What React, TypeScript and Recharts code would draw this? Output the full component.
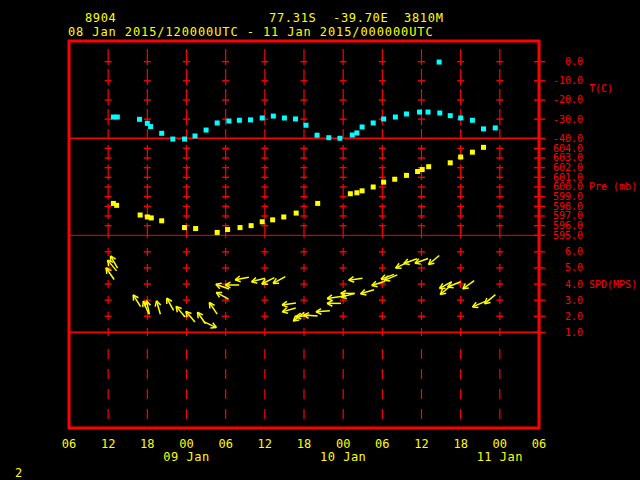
import { ComposedChart, XAxis, YAxis, Scatter, ReferenceLine, ReferenceArea } from "recharts";

// hours after 08 Jan 2015 06 UTC
const tempHours = [6.8, 7.4, 10.8, 12.0, 12.5, 14.2, 15.9, 17.7, 19.3, 21.0, 22.7, 24.5, 26.1, 27.8, 29.6, 31.3, 33.0, 34.7, 36.3, 38.0, 39.8, 41.5, 43.4, 44.1, 44.9, 46.6, 48.2, 50.0, 51.7, 53.7, 55.0, 56.7, 56.8, 58.4, 60.0, 61.8, 63.5, 65.3];
const tempValues = [-28.9, -28.9, -30.1, -32.2, -33.9, -37.4, -40.4, -40.4, -38.8, -35.7, -32.0, -31.0, -30.6, -30.4, -29.4, -28.4, -29.4, -29.9, -33.2, -38.4, -39.7, -40.0, -38.3, -37.2, -34.1, -32.0, -29.9, -28.9, -27.3, -26.3, -26.3, -0.2, -26.8, -28.2, -29.4, -30.6, -35.1, -34.6];

const presHours = [6.8, 7.3, 10.9, 12.0, 12.6, 14.2, 17.7, 19.4, 22.7, 24.3, 26.2, 27.9, 29.6, 31.2, 32.9, 34.8, 38.1, 43.1, 44.1, 44.9, 46.6, 48.2, 49.9, 51.7, 53.4, 54.1, 55.1, 58.4, 60.0, 61.8, 63.5];
const presValues = [598.3, 598.1, 597.1, 596.9, 596.8, 596.5, 595.8, 595.7, 595.3, 595.6, 595.8, 596.0, 596.4, 596.6, 596.9, 597.3, 598.3, 599.3, 599.4, 599.6, 600.0, 600.5, 600.8, 601.2, 601.6, 601.8, 602.1, 602.5, 603.1, 603.6, 604.1];

const windHours = [6.3, 6.6, 6.9, 10.4, 11.8, 12.1, 13.7, 15.5, 17.1, 18.6, 20.3, 21.6, 22.1, 23.5, 23.5, 25.0, 26.5, 29.0, 30.5, 32.2, 33.7, 33.7, 35.2, 35.8, 37.0, 38.9, 40.6, 40.6, 42.7, 42.7, 43.9, 45.7, 47.4, 48.8, 49.3, 51.0, 52.3, 54.0, 55.9, 57.7, 57.7, 59.0, 61.2, 62.8, 64.5];
const windSpeeds = [4.64, 5.15, 5.37, 2.96, 2.54, 2.54, 2.54, 2.75, 2.28, 1.97, 1.89, 1.48, 2.49, 3.27, 3.84, 3.94, 4.34, 4.25, 4.2, 4.25, 2.76, 2.39, 1.97, 2.02, 2.04, 2.31, 3.16, 2.8, 3.42, 3.3, 4.3, 3.52, 4.04, 4.45, 4.4, 5.18, 5.42, 5.44, 5.49, 3.94, 3.63, 3.98, 3.96, 2.75, 3.06];
// direction the wind blows from, degrees
const windDirs = [145, 140, 150, 148, 157, 168, 164, 151, 140, 140, 145, 295, 146, 119, 110, 90, 80, 76, 63, 61, 82, 74, 51, 84, 94, 85, 82, 90, 90, 75, 82, 74, 72, 70, 67, 64, 70, 70, 50, 61, 50, 68, 54, 67, 50];

const timeTicks = [0, 6, 12, 18, 24, 30, 36, 42, 48, 54, 60, 66, 72];
const gridHours = [6, 12, 18, 24, 30, 36, 42, 48, 54, 60, 66];
const dayHours = [18, 42, 66];
const dayNames = ["09 Jan", "10 Jan", "11 Jan"];

const tempTicks = [0, -10, -20, -30, -40];
const presTicks = [595, 596, 597, 598, 599, 600, 601, 602, 603, 604];
const windTicks = [1, 2, 3, 4, 5, 6];

const T_DOMAIN: [number, number] = [-191.3, 10.8];
const P_DOMAIN: [number, number] = [575.07, 615.1];
const W_DOMAIN: [number, number] = [-4.94, 19.09];

const RED = "#ff0000";
const YELLOW = "#ffff00";
const CYAN = "#00ffff";
const FONT = "'DejaVu Sans Mono', monospace";
const FRAME_RIGHT = 539;

const tempData = tempHours.map((x, i) => ({ x, y: tempValues[i] }));
const presData = presHours.map((x, i) => ({ x, y: presValues[i] }));
const windData = windHours.map((x, i) => ({ x, y: windSpeeds[i], dir: windDirs[i] }));

const crosses = (levels: number[]) =>
  gridHours.flatMap((x) => levels.map((y) => ({ x, y })));
const tempCross = crosses([0, -10, -20, -30]);
const presCross = crosses([596, 597, 598, 599, 600, 601, 602, 603, 604]);
const windCross = crosses([2, 3, 4, 5, 6]);

const Cross = (p: any) => (
  <line x1={p.cx - 3.5} x2={p.cx + 3.5} y1={p.cy} y2={p.cy} stroke={RED} strokeWidth={1.4} />
);

const square = (color: string) => (p: any) =>
  <rect x={p.cx - 2.5} y={p.cy - 2.5} width={5} height={5} fill={color} />;

const Arrow = (p: any) => {
  const { cx, cy, payload } = p;
  const to = ((payload.dir + 180) * Math.PI) / 180;
  const dx = Math.sin(to);
  const dy = -Math.cos(to);
  const L = 14;
  const hx = cx + (dx * L) / 2;
  const hy = cy + (dy * L) / 2;
  const back = Math.atan2(-dy, -dx);
  return (
    <g stroke={YELLOW} strokeWidth={1.5} fill="none">
      <line x1={cx - (dx * L) / 2} y1={cy - (dy * L) / 2} x2={hx} y2={hy} />
      <line x1={hx} y1={hy} x2={hx + 6 * Math.cos(back + 0.5)} y2={hy + 6 * Math.sin(back + 0.5)} />
      <line x1={hx} y1={hy} x2={hx + 6 * Math.cos(back - 0.5)} y2={hy + 6 * Math.sin(back - 0.5)} />
    </g>
  );
};

const rightTick = (title: string, titleAt: number, titleDy: number) => (p: any) => {
  const v = p.payload.value;
  return (
    <g>
      <line x1={FRAME_RIGHT - 5} x2={FRAME_RIGHT + 6} y1={p.y} y2={p.y} stroke={RED} strokeWidth={1.4} />
      <text x={FRAME_RIGHT + 44} y={p.y} dy="0.35em" textAnchor="end" fill={RED} fontSize={10} fontFamily={FONT}>
        {v.toFixed(1)}
      </text>
      {v === titleAt && (
        <text x={FRAME_RIGHT + 50} y={p.y + titleDy} dy="0.35em" fill={RED} fontSize={10} fontFamily={FONT}>
          {title}
        </text>
      )}
    </g>
  );
};

const timeTick = (p: any) => {
  const h = p.payload.value;
  const label = String((6 + h) % 24).padStart(2, "0");
  const day = dayHours.indexOf(h);
  return (
    <g fill={YELLOW} fontSize={12} fontFamily={FONT}>
      <text x={p.x} y={p.y + 19.5} textAnchor="middle">{label}</text>
      {day >= 0 && (
        <text x={p.x} y={p.y + 32.5} textAnchor="middle" letterSpacing={0.5}>{dayNames[day]}</text>
      )}
    </g>
  );
};

const gridLine = (axis: string, from: number, to: number, dash: string) =>
  gridHours.map((h) => (
    <ReferenceLine
      key={axis + from + h}
      yAxisId={axis}
      segment={[{ x: h, y: from }, { x: h, y: to }]}
      stroke={RED}
      strokeWidth={1.2}
      strokeDasharray={dash}
    />
  ));

const axisProps = {
  orientation: "right" as const,
  type: "number" as const,
  dataKey: "y",
  allowDataOverflow: true,
  interval: 0,
  width: 1,
  axisLine: false,
  tickLine: false,
  tickSize: 0,
  tickMargin: 0,
};

export default function App() {
  return (
    <div style={{ position: "absolute", left: 0, top: 0, width: 640, height: 480, background: "#000" }}>
      <ComposedChart width={640} height={480} margin={{ top: 41, left: 69, right: 98, bottom: 0 }}>
        <XAxis
          type="number"
          dataKey="x"
          domain={[0, 72]}
          ticks={timeTicks}
          interval={0}
          height={52}
          axisLine={false}
          tickLine={false}
          tickSize={0}
          tickMargin={0}
          tick={timeTick}
        />
        <YAxis yAxisId="t" {...axisProps} domain={T_DOMAIN} ticks={tempTicks} tick={rightTick("T(C)", -10, 8)} />
        <YAxis yAxisId="p" {...axisProps} domain={P_DOMAIN} ticks={presTicks} tick={rightTick("Pre (mb)", 600, 0)} />
        <YAxis yAxisId="w" {...axisProps} domain={W_DOMAIN} ticks={windTicks} tick={rightTick("SPD(MPS)", 4, 0)} />

        {gridLine("t", 6.6, -40, "16 4")}
        {gridLine("p", 604.34, 594.7, "15.5 4")}
        {gridLine("w", 6.24, 0.77, "8 8")}
        {gridLine("w", -0.04, -4.39, "10 10")}

        <ReferenceLine yAxisId="t" y={-40} stroke={RED} strokeWidth={1.5} />
        <ReferenceLine yAxisId="p" y={595} stroke={RED} strokeWidth={1} />
        <ReferenceLine yAxisId="w" y={1} stroke={RED} strokeWidth={1.5} />

        <Scatter yAxisId="t" data={tempCross} shape={Cross} isAnimationActive={false} />
        <Scatter yAxisId="p" data={presCross} shape={Cross} isAnimationActive={false} />
        <Scatter yAxisId="w" data={windCross} shape={Cross} isAnimationActive={false} />

        <Scatter yAxisId="t" data={tempData} shape={square(CYAN)} isAnimationActive={false} />
        <Scatter yAxisId="p" data={presData} shape={square(YELLOW)} isAnimationActive={false} />
        <Scatter yAxisId="w" data={windData} shape={Arrow} isAnimationActive={false} />

        <ReferenceArea yAxisId="t" x1={0} x2={72} y1={T_DOMAIN[0]} y2={T_DOMAIN[1]}
          fill="none" stroke={RED} strokeWidth={3} ifOverflow="visible" />
      </ComposedChart>
      <svg width={640} height={480} style={{ position: "absolute", left: 0, top: 0, pointerEvents: "none" }}>
        <g fill={YELLOW} fontFamily={FONT} fontSize={12}>
          <text x={85} y={22} letterSpacing={0.6}>8904</text>
          <text x={269} y={22} letterSpacing={0.7}>77.31S</text>
          <text x={333} y={22} letterSpacing={0.7}>-39.70E</text>
          <text x={404} y={22} letterSpacing={0.7}>3810M</text>
          <text x={68} y={36} letterSpacing={0.9}>08 Jan 2015/120000UTC - 11 Jan 2015/000000UTC</text>
          <text x={15} y={477}>2</text>
        </g>
      </svg>
    </div>
  );
}
